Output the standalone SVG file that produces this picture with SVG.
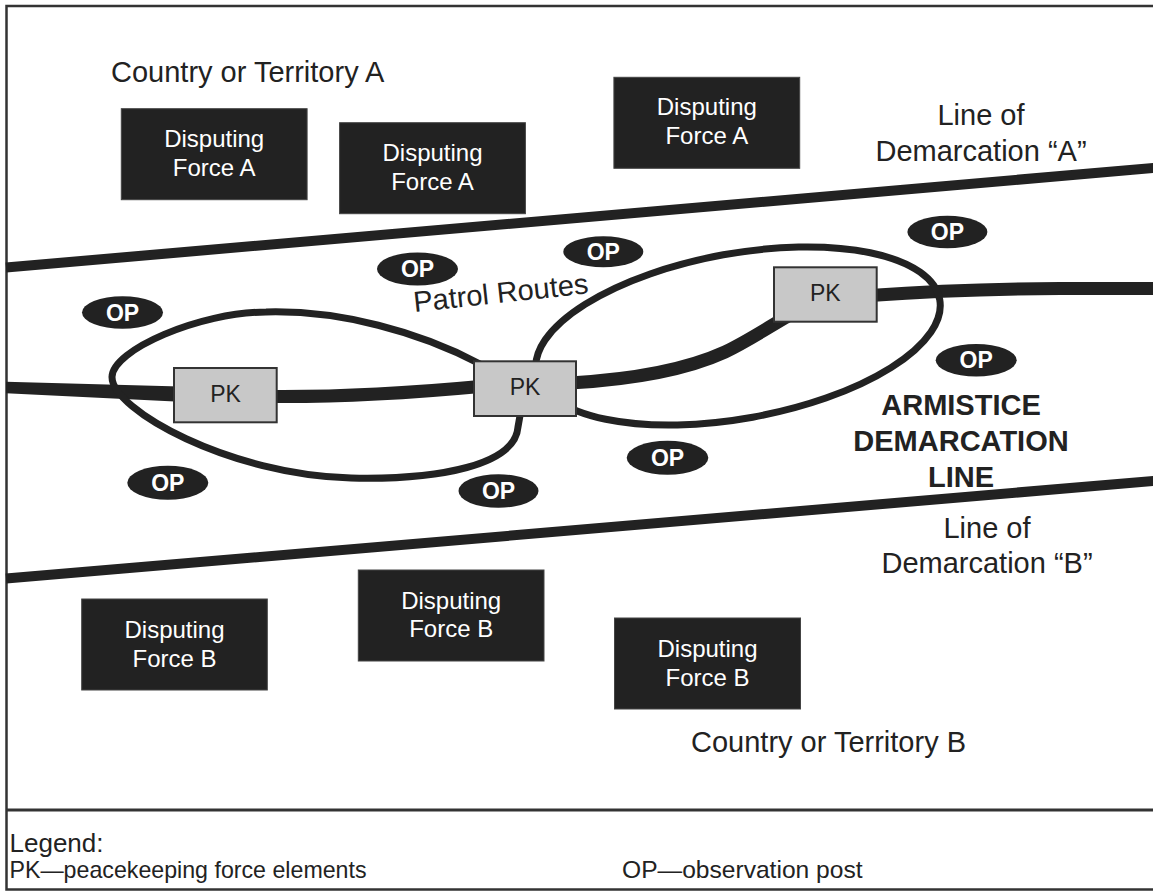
<svg xmlns="http://www.w3.org/2000/svg" width="1153" height="891" viewBox="0 0 1153 891">
<style>
text { font-family: "Liberation Sans", Arial, Helvetica, sans-serif; }
.bg { fill: #ffffff; }
.frame { fill: none; stroke: #333333; stroke-width: 2.5; }
.sep { stroke: #333333; stroke-width: 3; }
.demarc { fill: none; stroke: #222222; stroke-width: 10; }
.thick { fill: none; stroke: #222222; stroke-width: 13; }
.thickfill { fill: #222222; stroke: none; }
.route { fill: none; stroke: #222222; stroke-width: 7; }
.force rect { fill: #222222; stroke: #444444; stroke-width: 1; }
.force text { fill: #ffffff; font-size: 24px; text-anchor: middle; }
.pk rect { fill: #c8c8c8; stroke: #333333; stroke-width: 2; }
.pk text { fill: #222222; font-size: 23px; text-anchor: middle; }
.op ellipse { fill: #222222; }
.op text { fill: #ffffff; font-size: 23px; font-weight: bold; text-anchor: middle; }
.label { fill: #222222; font-size: 29px; }
.mid { text-anchor: middle; }
.bold { font-weight: bold; }
.legend { fill: #222222; }
</style>
<rect class="bg" x="0" y="0" width="1153" height="891"/>
<g id="frame">
  <path class="frame" d="M1160 6 L6.5 6 L6.5 889.5 L1160 889.5"/>
  <line class="sep" x1="6.5" y1="810" x2="1160" y2="810"/>
</g>
<g id="connectors">
  <line class="demarc" x1="6" y1="267.5" x2="1160" y2="167.4"/>
  <line class="demarc" x1="6" y1="578.5" x2="1160" y2="480.4"/>
  <path class="thickfill" d="M6 381.7 L180 386.5 L180 401.7 L6 393.3 Z"/>
  <path class="thick" d="M270 396.5 C330 397 400 394 480 386.5"/>
  <path class="thick" d="M570 383 C640 379 690 368 725 352 C750 340 770 326 795 312"/>
  <path class="thick" d="M870 295.5 Q960 289 1060 288.5 L1160 288.5"/>
  <path id="route-left" class="route" d="M521 410 L518 427 C515 465 440 480 351 478 C230 475 112 410 112 377 C112 350 200 312 266 312 C340 310 420 332 480 364 Z"/>
  <ellipse id="route-right" class="route" cx="738" cy="336" rx="205" ry="82.5" transform="rotate(-10.25 738 336)"/>
</g>
<g id="force-a1" class="force"><rect x="121.3" y="108.7" width="185.8" height="91"/><text x="214.2" y="146.7">Disputing</text><text x="214.2" y="175.7">Force A</text></g>
<g id="force-a2" class="force"><rect x="339.6" y="122.7" width="185.8" height="91"/><text x="432.5" y="161">Disputing</text><text x="432.5" y="190">Force A</text></g>
<g id="force-a3" class="force"><rect x="613.9" y="77.3" width="185.8" height="91"/><text x="706.8" y="115.3">Disputing</text><text x="706.8" y="144.3">Force A</text></g>
<g id="force-b1" class="force"><rect x="81.7" y="599" width="185.6" height="91"/><text x="174.5" y="638">Disputing</text><text x="174.5" y="666.5">Force B</text></g>
<g id="force-b2" class="force"><rect x="358.3" y="570" width="185.7" height="91"/><text x="451.2" y="608.5">Disputing</text><text x="451.2" y="637">Force B</text></g>
<g id="force-b3" class="force"><rect x="614.5" y="618" width="186" height="91"/><text x="707.5" y="657">Disputing</text><text x="707.5" y="685.5">Force B</text></g>
<g id="pk-left" class="pk"><rect x="174" y="368" width="102.7" height="54.3"/><text x="225.5" y="401.7">PK</text></g>
<g id="pk-mid" class="pk"><rect x="474" y="361.3" width="102" height="54.7"/><text x="525" y="395">PK</text></g>
<g id="pk-right" class="pk"><rect x="774" y="267.3" width="102.7" height="54.4"/><text x="825.3" y="300.8">PK</text></g>
<g id="op-1" class="op"><ellipse cx="122.5" cy="312.5" rx="40.5" ry="16.3"/><text x="122.5" y="320.5">OP</text></g>
<g id="op-2" class="op"><ellipse cx="417.5" cy="269" rx="40.5" ry="16.5"/><text x="417.5" y="277">OP</text></g>
<g id="op-3" class="op"><ellipse cx="603.3" cy="251.7" rx="40" ry="15.5"/><text x="603.3" y="259.7">OP</text></g>
<g id="op-4" class="op"><ellipse cx="947.4" cy="232" rx="40" ry="16.2"/><text x="947.4" y="240">OP</text></g>
<g id="op-5" class="op"><ellipse cx="976.2" cy="360.3" rx="40.5" ry="16.3"/><text x="976.2" y="368.3">OP</text></g>
<g id="op-6" class="op"><ellipse cx="167.8" cy="482.8" rx="40.5" ry="17"/><text x="167.8" y="490.8">OP</text></g>
<g id="op-7" class="op"><ellipse cx="498.5" cy="491" rx="40" ry="16.8"/><text x="498.5" y="499">OP</text></g>
<g id="op-8" class="op"><ellipse cx="667.5" cy="457.8" rx="40.8" ry="17"/><text x="667.5" y="465.8">OP</text></g>
<g id="labels">
  <text class="label" x="111" y="81.7">Country or Territory A</text>
  <text class="label" x="691" y="751.7">Country or Territory B</text>
  <text class="label mid" x="981" y="125">Line of</text>
  <text class="label mid" x="981" y="160.7">Demarcation “A”</text>
  <text class="label mid" x="987" y="538.3">Line of</text>
  <text class="label mid" x="987" y="573.3">Demarcation “B”</text>
  <text class="label mid bold" x="961" y="415">ARMISTICE</text>
  <text class="label mid bold" x="961" y="451">DEMARCATION</text>
  <text class="label mid bold" x="961" y="487">LINE</text>
  <text class="label" x="414.4" y="312" transform="rotate(-6.1 414.4 312)">Patrol Routes</text>
</g>
<g id="legend" class="legend">
  <text x="9.5" y="851.5" font-size="26">Legend:</text>
  <text x="9.5" y="878.3" font-size="23.2">PK—peacekeeping force elements</text>
  <text x="622" y="877.5" font-size="24.6">OP—observation post</text>
</g>
</svg>
